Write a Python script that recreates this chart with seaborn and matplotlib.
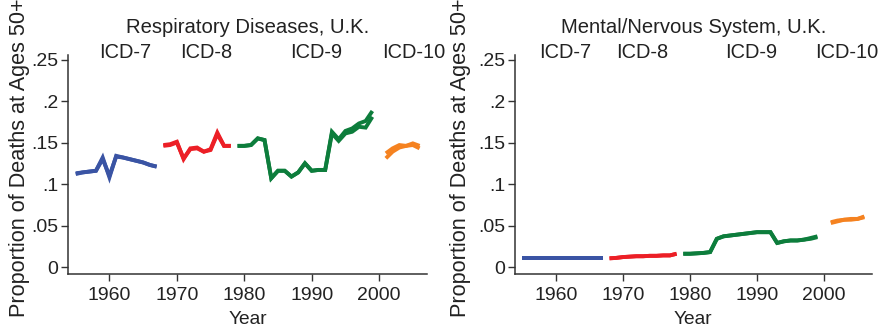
import numpy as np
import pandas as pd
import seaborn as sns
import matplotlib
matplotlib.use("Agg")
import matplotlib.pyplot as plt

# ---- data: proportion of deaths at ages 50+, by ICD revision ----
years_icd7 = list(range(1955, 1968))
years_icd8 = list(range(1968, 1979))
years_icd9 = list(range(1979, 2000))
years_icd10 = list(range(2001, 2007))

# Respiratory diseases (two closely related series)
resp_icd7_a = [.113, .114, .115, .116, .132, .108, .134, .132, .130, .128, .126, .123, .121]
resp_icd7_b = [.112, .114, .115, .116, .130, .110, .133, .132, .130, .128, .126, .123, .121]
resp_icd8_a = [.147, .148, .151, .130, .143, .144, .139, .142, .162, .146, .146]
resp_icd8_b = [.146, .147, .150, .131, .142, .143, .139, .141, .160, .146, .146]
resp_icd9_a = [.146, .146, .147, .155, .153, .107, .116, .116, .109, .114, .125,
               .116, .117, .117, .163, .154, .164, .167, .173, .176, .188]
resp_icd9_b = [.146, .146, .147, .155, .153, .107, .116, .116, .109, .114, .125,
               .116, .117, .117, .161, .152, .161, .163, .169, .168, .181]
resp_icd10_a = [.137, .143, .147, .146, .149, .146]
resp_icd10_b = [.131, .139, .144, .146, .147, .143]

# Mental / nervous system
ment_icd7_a = [.0105] * 13
ment_icd7_b = [.0105] * 13
ment_icd8_a = [.0105, .011, .012, .0125, .013, .013, .0135, .0135, .014, .014, .016]
ment_icd8_b = [.0105, .011, .012, .0125, .013, .013, .0135, .0135, .014, .014, .016]
ment_icd9_a = [.016, .016, .0165, .017, .018, .034, .037, .038, .039, .040, .041,
               .042, .042, .042, .029, .031, .032, .032, .033, .035, .037]
ment_icd9_b = [.016, .016, .0165, .017, .018, .034, .037, .038, .039, .040, .041,
               .042, .042, .042, .029, .031, .032, .032, .033, .034, .036]
ment_icd10_a = [.054, .056, .057, .058, .058, .061]
ment_icd10_b = [.053, .055, .057, .057, .058, .060]

revisions = ["ICD-7", "ICD-8", "ICD-9", "ICD-10"]
panel_titles = ["Respiratory Diseases, U.K.", "Mental/Nervous System, U.K."]
ytick_vals = [0, .05, .1, .15, .2, .25]
ytick_text = ["0", ".05", ".1", ".15", ".2", ".25"]
xtick_vals = [1960, 1970, 1980, 1990, 2000]

palette = {"ICD-7": "#3a54a4", "ICD-8": "#ec1f26", "ICD-9": "#0d7d3c", "ICD-10": "#f58220"}
TEXT = "#222222"


def build(blocks):
    rows = []
    year_sets = [years_icd7, years_icd8, years_icd9, years_icd10]
    for rev, yrs, (a, b) in zip(revisions, year_sets, blocks):
        for series, vals in (("a", a), ("b", b)):
            for y, v in zip(yrs, vals):
                rows.append({"year": y, "value": v, "revision": rev,
                             "series": f"{rev}-{series}"})
    return pd.DataFrame(rows)


resp = build([(resp_icd7_a, resp_icd7_b), (resp_icd8_a, resp_icd8_b),
              (resp_icd9_a, resp_icd9_b), (resp_icd10_a, resp_icd10_b)])
ment = build([(ment_icd7_a, ment_icd7_b), (ment_icd8_a, ment_icd8_b),
              (ment_icd9_a, ment_icd9_b), (ment_icd10_a, ment_icd10_b)])

sns.set_theme(style="white")
plt.rcParams["font.family"] = ["Liberation Sans", "DejaVu Sans"]
plt.rcParams["axes.edgecolor"] = "#333333"

fig = plt.figure(figsize=(8.82, 3.29), dpi=100)
ax_l = fig.add_axes([68.3 / 882, 1 - 273.5 / 329, (427 - 68.3) / 882, (273.5 - 55) / 329])
ax_r = fig.add_axes([515 / 882, 1 - 273.5 / 329, (871.7 - 515) / 882, (273.5 - 55) / 329])

panels = [
    (ax_l, resp, panel_titles[0], [1962.4, 1974.3, 1990.6, 2005.1]),
    (ax_r, ment, panel_titles[1], [1961.4, 1972.9, 1989.2, 2003.4]),
]

for ax, df, title, label_x in panels:
    sns.lineplot(data=df, x="year", y="value", hue="revision", units="series",
                 estimator=None, palette=palette, linewidth=2.8, legend=False,
                 ax=ax, solid_capstyle="butt", solid_joinstyle="miter")
    ax.set_xlim(1953.9, 2007.1)
    ax.set_ylim(-0.0078, 0.2555)
    ax.set_xticks(xtick_vals)
    ax.set_xticklabels([str(v) for v in xtick_vals], fontsize=14, color=TEXT)
    ax.set_yticks(ytick_vals)
    ax.set_yticklabels(ytick_text, fontsize=14, color=TEXT)
    ax.tick_params(axis="both", direction="out", length=5, width=1, color="#333333",
                   pad=2, bottom=True, left=True)
    ax.tick_params(axis="x", pad=5)
    for side in ("top", "right"):
        ax.spines[side].set_visible(False)
    for side in ("left", "bottom"):
        ax.spines[side].set_linewidth(1.1)
    ax.set_xlabel("Year", fontsize=13.8, color=TEXT, labelpad=5)
    ax.set_ylabel("")
    ax.set_title(title, fontsize=14.6, color=TEXT, pad=16)
    for rev, xpos in zip(revisions, label_x):
        ax.text(xpos, 0.2585, rev, ha="center", va="center", fontsize=14.4,
                color=TEXT, clip_on=False)

for xc in (20, 461):
    fig.text(xc / 882, 1 - 158 / 329, "Proportion of Deaths at Ages 50+", rotation=90,
             ha="center", va="center", fontsize=15.6, color=TEXT)

fig.savefig("out.png", dpi=100)
